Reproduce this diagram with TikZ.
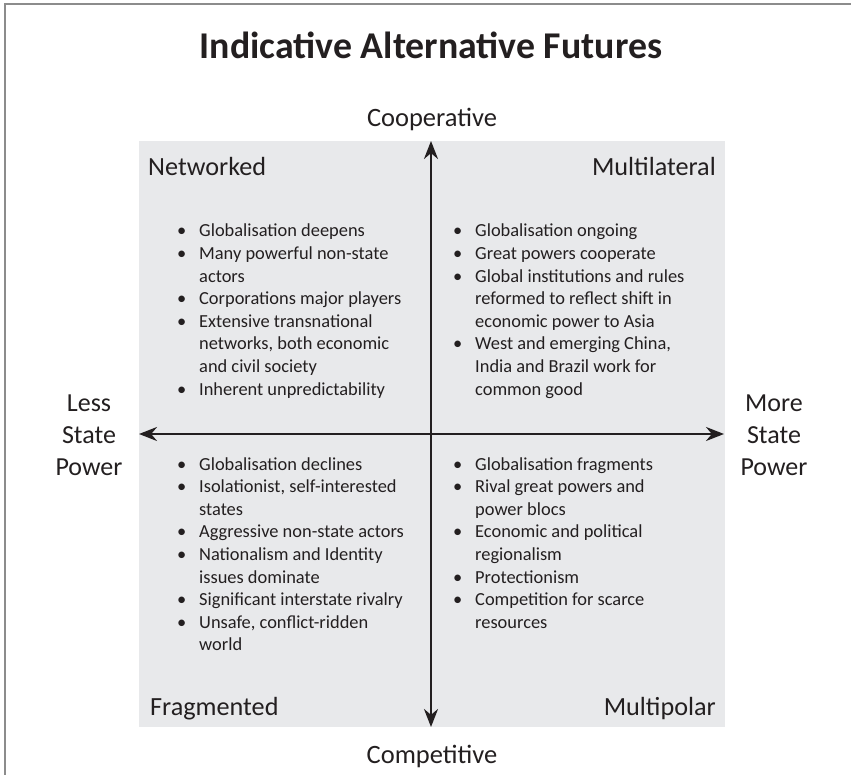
\documentclass[tikz,border=0pt]{standalone}
\usepackage{fontspec}
\setmainfont{Carlito}
\usetikzlibrary{arrows.meta}

\definecolor{ink}{HTML}{231F20}
\definecolor{panelgray}{HTML}{E8E9EB}
\definecolor{framegray}{HTML}{8C8C8C}

% one bullet point; continuation lines are plain paragraphs sharing the left skip
\newcommand\bitem{\par\noindent\llap{\textbullet\hspace{13pt}}}
% a bullet list set in a top-aligned box, so its base is the first line
\newcommand\bulletlist[1]{\parbox[t]{290pt}{\leftskip=24pt\parskip=0pt\parindent=0pt
  \rightskip=0pt plus 1fil #1\par}}

\begin{document}
\begin{tikzpicture}[x=1pt,y=-1pt,
  every node/.style={text=ink, inner sep=0pt},
  titletext/.style={font=\fontsize{37.8}{45}\selectfont\bfseries, anchor=base},
  axislabel/.style={font=\fontsize{26.5}{32}\selectfont, anchor=base},
  sidelabel/.style={font=\fontsize{26}{32}\selectfont, align=center, anchor=base},
  quadtitle/.style={font=\fontsize{26.2}{31}\selectfont},
  listbox/.style={anchor=base west, font=\fontsize{18.4}{22.6}\selectfont},
  axis/.style={draw=ink, line width=2.6pt,
    {Stealth[length=18pt,width=14pt]}-{Stealth[length=18pt,width=14pt]}}]

\useasboundingbox (0,0) rectangle (851,775);

% frame edges
\draw[framegray, line width=2pt] (5,775) -- (5,4) -- (851,4);

% title
\node[titletext] (title) at (431,59) {Indicative Alternative Futures};

% shaded quadrant field
\node[fill=panelgray, minimum width=586pt, minimum height=586pt] (panel) at (432,434) {};

% axis labels
\node[axislabel] (coop) at (432,127) {Cooperative};
\node[axislabel] (comp) at (432,763) {Competitive};
% base of a multi-line label is its last line
\node[sidelabel] (less) at (89,475) {Less\\State\\Power};
\node[sidelabel] (more) at (774,475) {More\\State\\Power};

% quadrant names
\node[quadtitle, anchor=base west] (tnw) at (148,176) {Networked};
\node[quadtitle, anchor=base east] (tne) at (716,176) {Multilateral};
\node[quadtitle, anchor=base west] (tsw) at (150,715) {Fragmented};
\node[quadtitle, anchor=base east] (tse) at (716,715) {Multipolar};

% quadrant bullet lists
\node[listbox] (lnw) at (175,237) {\bulletlist{%
  \bitem Globalisation deepens
  \bitem Many powerful non-state\par actors
  \bitem Corporations major players
  \bitem Extensive transnational\par networks, both economic\par and civil society
  \bitem Inherent unpredictability}};

\node[listbox] (lne) at (451,237) {\bulletlist{%
  \bitem Globalisation ongoing
  \bitem Great powers cooperate
  \bitem Global institutions and rules\par reformed to reflect shift in\par economic power to Asia
  \bitem West and emerging China,\par India and Brazil work for\par common good}};

\node[listbox] (lsw) at (175,470) {\bulletlist{%
  \bitem Globalisation declines
  \bitem Isolationist, self-interested\par states
  \bitem Aggressive non-state actors
  \bitem Nationalism and Identity\par issues dominate
  \bitem Significant interstate rivalry
  \bitem Unsafe, conflict-ridden\par world}};

\node[listbox] (lse) at (451,470) {\bulletlist{%
  \bitem Globalisation fragments
  \bitem Rival great powers and\par power blocs
  \bitem Economic and political\par regionalism
  \bitem Protectionism
  \bitem Competition for scarce\par resources}};

% axes
\coordinate (atop) at (431,141);
\coordinate (abot) at (431,727);
\coordinate (alft) at (139,434);
\coordinate (argt) at (724,434);
\draw[axis] (abot) -- (atop);
\draw[axis] (alft) -- (argt);
\end{tikzpicture}
\end{document}
